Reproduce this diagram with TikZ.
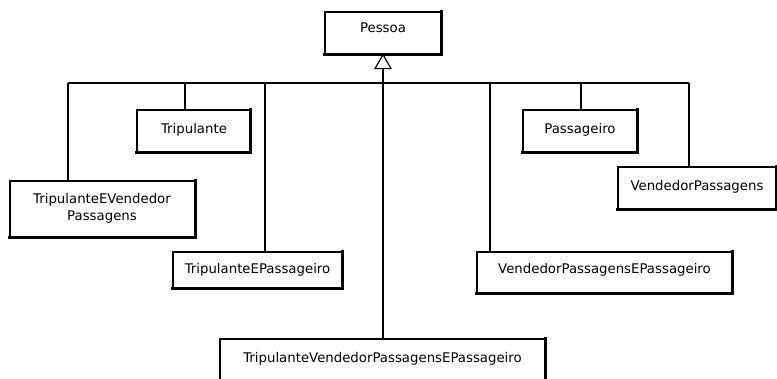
\documentclass[tikz,border=0pt]{standalone}
\usepackage{fontspec}
\setmainfont{DejaVu Sans}
\begin{document}
\begin{tikzpicture}[x=1pt,y=-1pt,
  classbox/.style={draw=black,line width=1.2pt,fill=white,inner sep=0pt,rectangle},
  shade/.style={draw=black,line width=2.4pt,line join=miter,line cap=rect},
  conn/.style={draw=black,line width=2.4pt},
  lbl/.style={anchor=base,inner sep=0pt,font=\fontsize{13.3}{17}\selectfont}]
\useasboundingbox (0,0) rectangle (777,378);
\clip (0,0) rectangle (777,378);
\fill[white] (0,0) rectangle (777,378);

% class boxes
\node[classbox,minimum width=116,minimum height=42] (pessoa)     at (383,33)    {};
\node[classbox,minimum width=113,minimum height=42] (tripulante) at (193.5,131) {};
\node[classbox,minimum width=114,minimum height=42] (passageiro) at (580,131)   {};
\node[classbox,minimum width=185,minimum height=56] (tevp)       at (102.5,209) {};
\node[classbox,minimum width=158,minimum height=42] (vp)         at (697,188)   {};
\node[classbox,minimum width=169,minimum height=36] (tep)        at (257.5,270) {};
\node[classbox,minimum width=255,minimum height=41] (vpep)       at (604.5,272.5) {};
\node[classbox,minimum width=325,minimum height=51] (tvpep)      at (382.5,364.5) {};

% heavier bottom and right edges
\foreach \n in {pessoa,tripulante,passageiro,tevp,vp,tep,vpep,tvpep}
  \draw[shade] (\n.north east) -- (\n.south east) -- (\n.south west);

% class names
\node[lbl] (pessoa-t)     at (383,32)    {Pessoa};
\node[lbl] (tripulante-t) at (194,133)   {Tripulante};
\node[lbl] (passageiro-t) at (580,133)   {Passageiro};
\node[lbl] (tevp-t1)      at (102,203)   {TripulanteEVendedor};
\node[lbl] (tevp-t2)      at (102,220)   {Passagens};
\node[lbl] (vp-t)         at (697,190)   {VendedorPassagens};
\node[lbl] (tep-t)        at (257.5,273) {TripulanteEPassageiro};
\node[lbl] (vpep-t)       at (604.5,273) {VendedorPassagensEPassageiro};
\node[lbl] (tvpep-t)      at (382.5,362) {TripulanteVendedorPassagensEPassageiro};

% generalization arrowhead under Pessoa
\draw[line width=1.2pt,fill=white,line join=miter]
  (pessoa.south) -- ++(-8,14) -- ++(16,0) -- cycle;
\path (pessoa.south) ++(0,14) coordinate (tri);

% junctions on the shared bus
\coordinate (j1) at (68,83);
\coordinate (j2) at (185,83);
\coordinate (j3) at (265,83);
\coordinate (j4) at (383,83);
\coordinate (j5) at (490,83);
\coordinate (j6) at (581,83);
\coordinate (j7) at (689,83);

\draw[conn] (j1) -- (j7);
\draw[conn] (tri) -- (tri |- tvpep.north);
\draw[conn] (j1) -- (j1 |- tevp.north);
\draw[conn] (j2) -- (j2 |- tripulante.north);
\draw[conn] (j3) -- (j3 |- tep.north);
\draw[conn] (j5) -- (j5 |- vpep.north);
\draw[conn] (j6) -- (j6 |- passageiro.north);
\draw[conn] (j7) -- (j7 |- vp.north);
\end{tikzpicture}
\end{document}
